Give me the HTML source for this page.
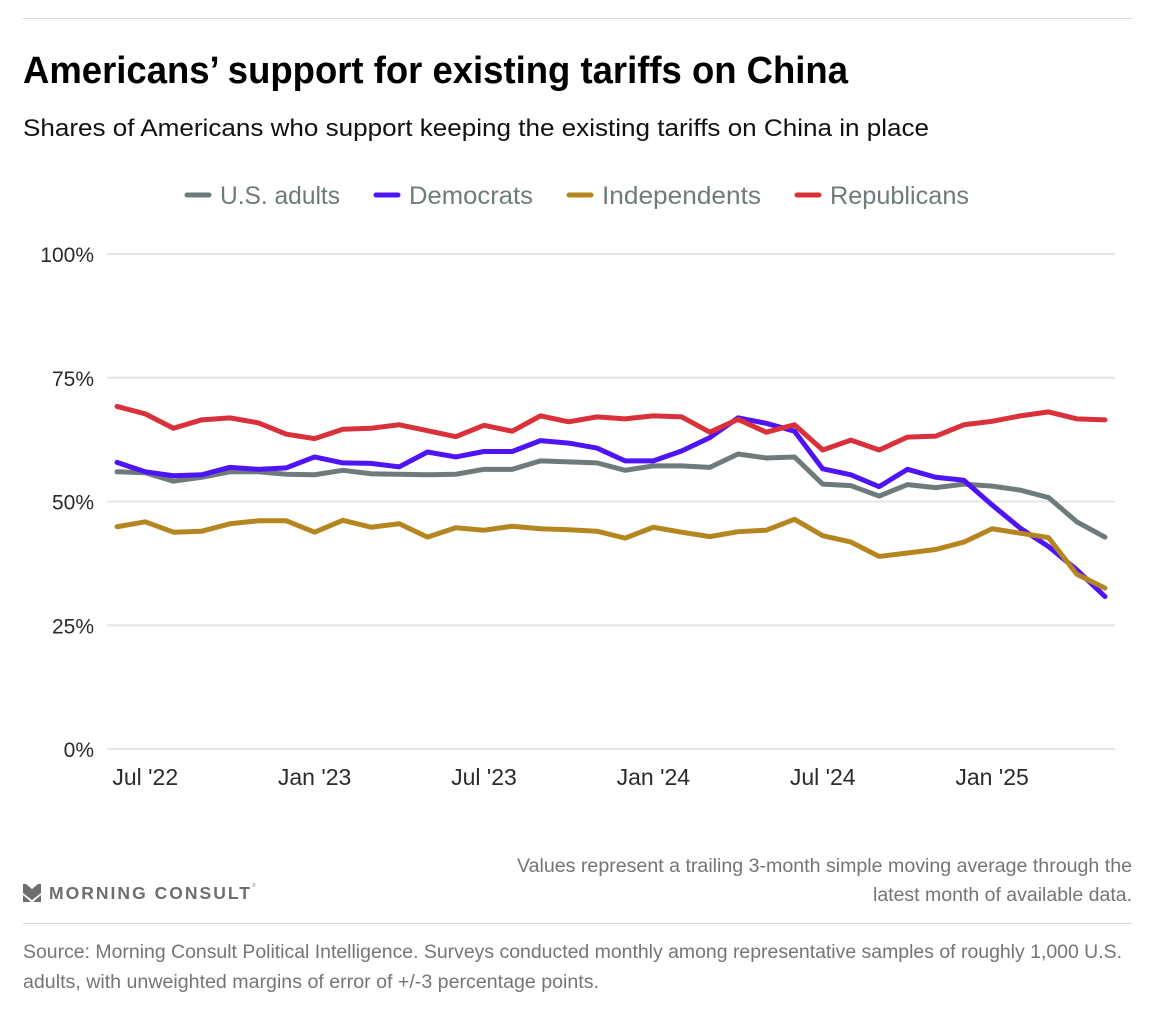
<!DOCTYPE html>
<html lang="en">
<head>
<meta charset="utf-8">
<title>Americans' support for existing tariffs on China</title>
<style>
html,body{margin:0;padding:0;background:#fff;}
body{width:1170px;height:1030px;overflow:hidden;}
svg{display:block;}
text{font-family:"Liberation Sans",Arial,sans-serif;}
</style>
</head>
<body>
<svg id="chart" width="1170" height="1030" viewBox="0 0 1170 1030" xmlns="http://www.w3.org/2000/svg">
  <rect x="0" y="0" width="1170" height="1030" fill="#ffffff"/>
  <line x1="23" x2="1132" y1="18.5" y2="18.5" stroke="#d9d9d9" stroke-width="1"/>
  <text x="23" y="83" font-size="38" font-weight="700" fill="#000" textLength="825" lengthAdjust="spacingAndGlyphs">Americans’ support for existing tariffs on China</text>
  <text x="23" y="136" font-size="24" fill="#111" textLength="906" lengthAdjust="spacingAndGlyphs">Shares of Americans who support keeping the existing tariffs on China in place</text>

  <g id="legend"></g>
  <g id="grid"></g>
  <g id="ylabels"></g>
  <g id="xlabels"></g>
  <g id="lines"></g>

  <g>
    <polygon points="23,884 26,884 32,889 38,884 41,884 41,893 32,900 23,893" fill="#6d6e70"/>
    <polygon points="23,895 31,902 23,902" fill="#6d6e70"/>
    <polygon points="41,895 33,902 41,902" fill="#6d6e70"/>
    <text x="49" y="899" font-size="17.5" font-weight="700" fill="#6d6e70" textLength="201" lengthAdjust="spacing">MORNING CONSULT</text>
    <text x="252" y="887" font-size="5" fill="#8a8a8a">®</text>
  </g>
  <text x="1132" y="872" font-size="19" fill="#757575" text-anchor="end" textLength="615" lengthAdjust="spacingAndGlyphs">Values represent a trailing 3-month simple moving average through the</text>
  <text x="1132" y="901" font-size="19" fill="#757575" text-anchor="end" textLength="259" lengthAdjust="spacingAndGlyphs">latest month of available data.</text>
  <line x1="23" x2="1132" y1="923.5" y2="923.5" stroke="#d9d9d9" stroke-width="1"/>
  <text x="23" y="958" font-size="19" fill="#757575" textLength="1099" lengthAdjust="spacingAndGlyphs">Source: Morning Consult Political Intelligence. Surveys conducted monthly among representative samples of roughly 1,000 U.S.</text>
  <text x="23" y="988" font-size="19" fill="#757575" textLength="576" lengthAdjust="spacingAndGlyphs">adults, with unweighted margins of error of +/-3 percentage points.</text>
</svg>
<script>
// Chart data (June 2022 through May 2025)
var months = ["Jun '22","Jul '22","Aug '22","Sep '22","Oct '22","Nov '22","Dec '22","Jan '23","Feb '23","Mar '23","Apr '23","May '23","Jun '23","Jul '23","Aug '23","Sep '23","Oct '23","Nov '23","Dec '23","Jan '24","Feb '24","Mar '24","Apr '24","May '24","Jun '24","Jul '24","Aug '24","Sep '24","Oct '24","Nov '24","Dec '24","Jan '25","Feb '25","Mar '25","Apr '25","May '25"];
var adultsValues = [56.0,55.8,54.1,54.9,56.0,56.0,55.5,55.4,56.3,55.6,55.5,55.4,55.5,56.5,56.5,58.2,58.0,57.8,56.3,57.2,57.2,56.9,59.6,58.8,59.0,53.5,53.2,51.1,53.4,52.8,53.5,53.1,52.3,50.8,45.9,42.8];
var democratsValues = [57.9,56.0,55.2,55.4,56.9,56.5,56.8,59.0,57.8,57.7,57.0,60.0,59.0,60.1,60.1,62.3,61.8,60.8,58.2,58.2,60.2,62.9,66.9,65.8,64.2,56.6,55.4,53.0,56.5,54.9,54.3,49.3,44.6,40.9,36.2,30.8];
var independentsValues = [44.9,45.9,43.8,44.0,45.5,46.1,46.1,43.8,46.2,44.8,45.5,42.8,44.7,44.2,45.0,44.5,44.3,44.0,42.6,44.8,43.8,42.9,43.9,44.2,46.4,43.1,41.8,38.9,39.6,40.3,41.8,44.5,43.6,42.7,35.3,32.5];
var republicansValues = [69.2,67.7,64.8,66.5,66.9,65.9,63.6,62.7,64.6,64.8,65.5,64.3,63.1,65.4,64.2,67.3,66.1,67.1,66.7,67.3,67.1,64.0,66.6,64.0,65.5,60.4,62.4,60.4,63.0,63.2,65.5,66.2,67.3,68.1,66.7,66.5];
var yTicks = [0,25,50,75,100];
var xTickLabels = ["Jul '22","Jan '23","Jul '23","Jan '24","Jul '24","Jan '25"];

var NS = "http://www.w3.org/2000/svg";
var plotLeft = 117, plotRight = 1105, plotTop = 254, plotBottom = 749;
function xScale(i){ return plotLeft + i * (plotRight - plotLeft) / (months.length - 1); }
function yScale(v){ return plotBottom - v * (plotBottom - plotTop) / 100; }
function make(tag, attrs, parent){
  var el = document.createElementNS(NS, tag);
  for (var k in attrs) el.setAttribute(k, attrs[k]);
  parent.appendChild(el);
  return el;
}

var grid = document.getElementById("grid");
var ylabels = document.getElementById("ylabels");
yTicks.forEach(function(t){
  var gl = make("line", {x1:107, x2:1115, y1:yScale(t), y2:yScale(t), stroke:"#e6e6e6", "stroke-width":2}, grid);
  
  
  var lb = make("text", {x:94, y:yScale(t)+8, "font-size":21, fill:"#2b2b2b", "text-anchor":"end"}, ylabels);
  
  
  lb.textContent = t + "%";
});

var xlabels = document.getElementById("xlabels");
xTickLabels.forEach(function(m){
  var lb = make("text", {x:xScale(months.indexOf(m)), y:785, "font-size":23, fill:"#2b2b2b", "text-anchor":"middle"}, xlabels);
  
  
  lb.textContent = m;
});

var lines = document.getElementById("lines");
function drawSeries(name, values, color){
  var pts = values.map(function(v,i){ return xScale(i).toFixed(2) + "," + yScale(v).toFixed(2); }).join(" ");
  var pl = make("polyline", {points:pts, fill:"none", stroke:color, "stroke-width":5, "stroke-linejoin":"round", "stroke-linecap":"round"}, lines);
  
  
}
drawSeries("us-adults", adultsValues, "#6f7b7b");
drawSeries("democrats", democratsValues, "#4f14f6");
drawSeries("independents", independentsValues, "#b5851f");
drawSeries("republicans", republicansValues, "#d9303a");

var legend = document.getElementById("legend");
function drawLegend(name, label, color, x1, x2, tx, tw){
  var sw = make("line", {x1:x1, x2:x2, y1:195, y2:195, stroke:color, "stroke-width":5, "stroke-linecap":"round"}, legend);
  
  
  var tt = make("text", {x:tx, y:204, "font-size":25, fill:"#6f7b7b", textLength:tw, lengthAdjust:"spacingAndGlyphs"}, legend);
  
  
  tt.textContent = label;
}
drawLegend("us-adults", "U.S. adults", "#6f7b7b", 187, 209, 220, 120);
drawLegend("democrats", "Democrats", "#4f14f6", 376, 398, 409, 124);
drawLegend("independents", "Independents", "#b5851f", 569, 591, 602, 159);
drawLegend("republicans", "Republicans", "#d9303a", 797, 819, 830, 139);
</script>
</body>
</html>
